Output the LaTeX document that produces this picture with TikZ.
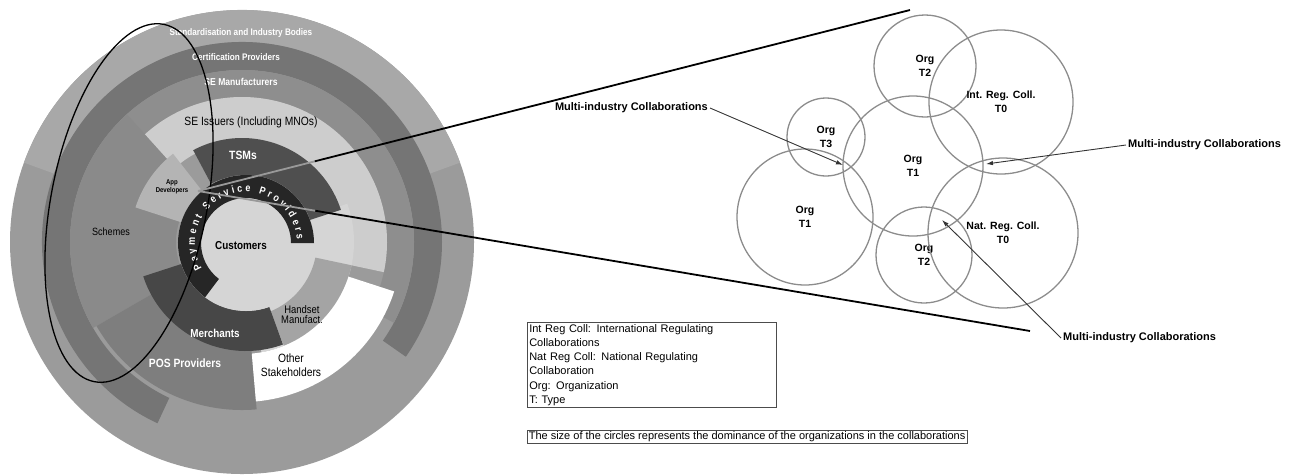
\documentclass[tikz,border=0pt]{standalone}
\usepackage{fontspec}
\setmainfont{Liberation Sans}
\newfontfamily\narrowfont{Liberation Sans}[FakeStretch=0.86]
\usetikzlibrary{calc,arrows.meta,decorations.text}

\definecolor{outergrey}{HTML}{9B9B9B}
\definecolor{stdgrey}{HTML}{A8A8A8}
\definecolor{certgrey}{HTML}{757575}
\definecolor{mfrgrey}{HTML}{8E8E8E}
\definecolor{schemegrey}{HTML}{8A8A8A}
\definecolor{posgrey}{HTML}{7E7E7E}
\definecolor{issuergrey}{HTML}{CDCDCD}
\definecolor{custgrey}{HTML}{D5D5D5}
\definecolor{handgrey}{HTML}{A4A4A4}
\definecolor{appgrey}{HTML}{B4B4B4}
\definecolor{tsmgrey}{HTML}{4F4F4F}
\definecolor{merchgrey}{HTML}{474747}
\definecolor{paygrey}{HTML}{262626}
\definecolor{ringgrey}{HTML}{8C8C8C}

% fill, centre, inner radius, outer radius, start angle, end angle
\newcommand{\ringsector}[6]{%
  \fill[#1] ($(#2)+(#5:#4)$) arc[start angle=#5, end angle=#6, radius=#4]
    -- ($(#2)+(#6:#3)$) arc[start angle=#6, end angle=#5, radius=#3] -- cycle;}

\begin{document}
\begin{tikzpicture}[x=1pt, y=-1pt,
    orgring/.style={circle, draw=ringgrey, line width=1.3pt, inner sep=0pt, align=center,
      font=\bfseries\fontsize{10.5}{14}\selectfont},
    collab/.style={font=\bfseries\fontsize{11}{12}\selectfont, inner sep=2pt},
    pointer/.style={draw=black!80, line width=0.9pt, -{Latex[length=7pt,width=4.5pt]}},
    zoomline/.style={line width=1.8pt, black},
    ringlbl/.style={font=\narrowfont\bfseries\fontsize{9.5}{11}\selectfont, text=white, inner sep=1pt},
    darklbl/.style={font=\narrowfont\fontsize{11}{14}\selectfont, inner sep=1pt, align=center},
    legendbox/.style={draw=black!70, line width=0.6pt, align=left, anchor=north west,
      text width=245pt, font=\fontsize{11}{14.2}\selectfont, inner sep=2pt}]
  \useasboundingbox (0,0) rectangle (1292,475);

  % the ecosystem disc
  \coordinate (hub) at (242,242);
  \coordinate (core) at (246,243);
  \fill[outergrey] (hub) circle[radius=232];
  \ringsector{stdgrey}{hub}{200}{232}{200}{340}
  \ringsector{certgrey}{hub}{172}{200}{115}{395}
  \ringsector{mfrgrey}{hub}{145}{172}{226}{388}
  \ringsector{schemegrey}{hub}{66}{172}{150}{228}
  \ringsector{posgrey}{hub}{100}{168}{85}{150}
  \ringsector{issuergrey}{hub}{100}{145}{228}{372}
  \ringsector{custgrey}{hub}{60}{112}{-20}{80}
  \ringsector{handgrey}{hub}{75}{112}{12}{68}
  \ringsector{white}{hub}{112}{160}{18}{85}
  \ringsector{appgrey}{hub}{55}{112}{198}{232}
  \ringsector{tsmgrey}{hub}{66}{104}{242}{342}
  \ringsector{merchgrey}{core}{68}{108}{70}{162}
  \fill[custgrey] (core) circle[radius=68];
  \ringsector{paygrey}{core}{45}{68}{127}{360}
  \path[decorate, decoration={text along path, text align={fit to path},
      text={|\narrowfont\bfseries\fontsize{10.5}{12}\selectfont\color{white}|Payment Service Providers}}]
    ($(core)+(150:51)$) arc[start angle=150, end angle=356, radius=51];

  \node[ringlbl, font=\narrowfont\bfseries\fontsize{9.5}{11}\selectfont] (stdlbl) at (241,33) {Standardisation and Industry Bodies};
  \node[ringlbl] (certlbl) at (236,57) {Certification Providers};
  \node[ringlbl, font=\narrowfont\bfseries\fontsize{10}{11}\selectfont] (mfrlbl) at (241,82) {SE Manufacturers};
  \node[darklbl, font=\narrowfont\fontsize{12}{14}\selectfont] (issuerlbl) at (251,122) {SE Issuers (Including MNOs)};
  \node[ringlbl, font=\narrowfont\bfseries\fontsize{12}{14}\selectfont] (tsmlbl) at (243,155) {TSMs};
  \node[darklbl, font=\narrowfont\bfseries\fontsize{7}{8.5}\selectfont] (applbl) at (172,187) {App\\Developers};
  \node[darklbl, font=\narrowfont\fontsize{10.5}{12}\selectfont] (schemelbl) at (111,232) {Schemes};
  \node[darklbl, font=\narrowfont\bfseries\fontsize{11.5}{12}\selectfont] (custlbl) at (241,246) {Customers};
  \node[ringlbl, font=\narrowfont\bfseries\fontsize{11.5}{12}\selectfont] (merchlbl) at (215,333) {Merchants};
  \node[ringlbl, font=\narrowfont\bfseries\fontsize{12}{13}\selectfont] (poslbl) at (185,363) {POS Providers};
  \node[darklbl, font=\narrowfont\fontsize{11}{10}\selectfont] (handlbl) at (302,315) {Handset\\Manufact.};
  \node[darklbl, font=\narrowfont\fontsize{12}{14}\selectfont] (otherlbl) at (291,365) {Other\\Stakeholders};

  \draw[line width=1.3pt, rotate around={-11:(129,203)}] (129,203) ellipse[x radius=78, y radius=182];

  % zoom lines
  \coordinate (focus) at (198,191);
  \coordinate (topend) at (910,10);
  \coordinate (botend) at (1030,331);
  \coordinate (topbreak) at ($(focus)!0.164!(topend)$);
  \coordinate (botbreak) at ($(focus)!0.141!(botend)$);
  \draw[zoomline, black!40] (focus) -- (topbreak);
  \draw[zoomline, black!40] (focus) -- (botbreak);
  \draw[zoomline] (topbreak) -- (topend);
  \draw[zoomline] (botbreak) -- (botend);

  % collaborations
  \node[orgring, minimum size=102pt] (orgA) at (925,66) {Org\\T2};
  \node[orgring, minimum size=144pt] (intreg) at (1001,102) {Int. Reg. Coll.\\T0};
  \node[orgring, minimum size=140pt] (orgB) at (913,166) {Org\\T1};
  \node[orgring, minimum size=78pt] (orgC) at (826,137) {Org\\T3};
  \node[orgring, minimum size=136pt] (orgD) at (805,217) {Org\\T1};
  \node[orgring, minimum size=96pt] (orgE) at (924,255) {Org\\T2};
  \node[orgring, minimum size=150pt] (natreg) at (1003,233) {Nat. Reg. Coll.\\T0};

  \coordinate (tipA) at (843,165);
  \coordinate (tipB) at (986,164);
  \coordinate (tipC) at (942,220);
  \node[collab, anchor=east] (collabL) at (710,108) {Multi-industry Collaborations};
  \node[collab, anchor=west] (collabR) at (1126,145) {Multi-industry Collaborations};
  \node[collab, anchor=west] (collabB) at (1061,338) {Multi-industry Collaborations};
  \draw[pointer] (collabL.east) -- (tipA);
  \draw[pointer] (collabR.west) -- (tipB);
  \draw[pointer] (collabB.west) -- (tipC);

  % key
  \node[legendbox] (legend) at (527,322) {Int Reg Coll: International Regulating\\ Collaborations\\ Nat Reg Coll: National Regulating\\ Collaboration\\ Org: Organization\\ T: Type};
  \node[draw=black!70, line width=0.6pt, anchor=north west, font=\fontsize{11}{12}\selectfont, inner sep=1.5pt] (caption) at (527,430) {The size of the circles represents the dominance of the organizations in the collaborations};
\end{tikzpicture}
\end{document}
